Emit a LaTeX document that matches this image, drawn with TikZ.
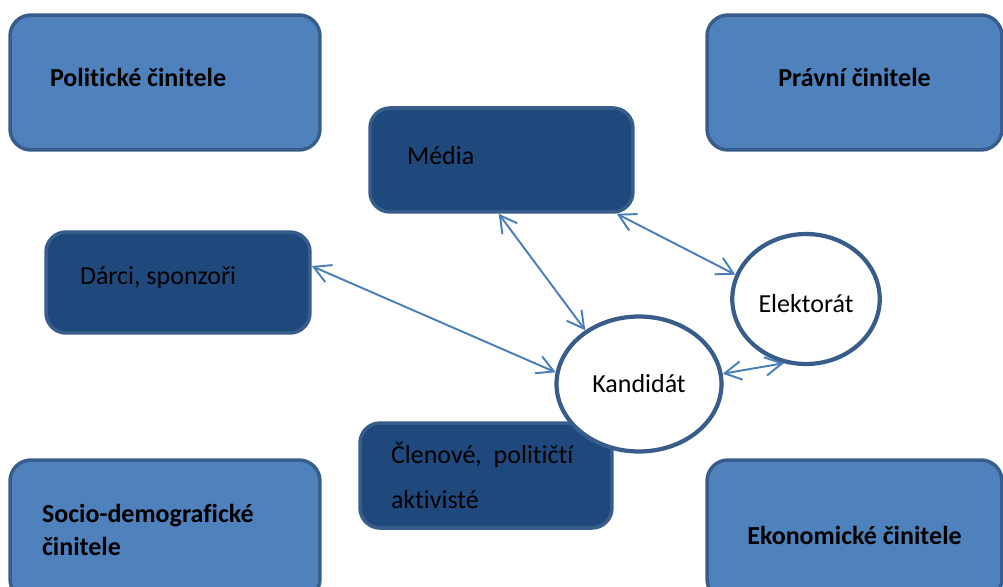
\documentclass[tikz,border=0pt]{standalone}
\usepackage{fontspec}
\setmainfont{Carlito}[Ligatures=NoCommon]
\usetikzlibrary{arrows.meta,shapes.geometric}
\definecolor{factorfill}{HTML}{4F81BD}
\definecolor{actorfill}{HTML}{1F497D}
\definecolor{edgeblue}{HTML}{385D8A}
\definecolor{linkblue}{HTML}{4A7EBB}

\begin{document}
\begin{tikzpicture}[
    x=0.02cm, y=-0.02cm,
    factor/.style={
      draw=edgeblue, fill=factorfill, line width=2pt, rounded corners=0.42cm,
      minimum width=5.9cm, minimum height=2.7cm, inner ysep=0pt,
      font=\fontsize{14.8}{18.7}\selectfont\bfseries, text=black
    },
    actor/.style={
      draw=edgeblue, fill=actorfill, line width=2pt, rounded corners=0.4cm,
      inner ysep=0pt, align=flush left,
      font=\fontsize{14.8}{18}\selectfont, text=black
    },
    voter/.style={
      ellipse, draw=edgeblue, fill=white, line width=2.4pt, inner sep=0pt,
      font=\fontsize{14.8}{18}\selectfont
    },
    link/.style={{Straight Barb[length=9.5pt,width=10.5pt]}-{Straight Barb[length=9.5pt,width=10.5pt]},
      draw=linkblue, line width=1.1pt},
  ]
  \useasboundingbox (0,0) rectangle (1003,587);
  \clip (0,0) rectangle (1003,587);

  % =================== Outer factors ===================
  \node[factor, minimum width=6.2cm, text width=4.6cm, inner xsep=0.8cm, align=flush left,
    text depth=0.2cm] (pol) at (165,82.5) {Politické činitele};
  \node[factor, text depth=0.2cm] (prav) at (854.5,82.5) {Právní činitele};
  \node[factor, minimum width=6.2cm, minimum height=2.8cm, text width=4.92cm,
    inner xsep=0.64cm, align=flush left] (socio) at (165,530) {Socio-demografické\\činitele};
  \node[factor, minimum height=2.8cm, text height=0.6cm] (ekon) at (854.5,530) {Ekonomické činitele};

  % =================== Actors ===================
  \node[actor, minimum width=5.26cm, minimum height=2.08cm, text width=3.78cm,
    inner xsep=0.74cm, text depth=0.2cm] (media) at (501.5,160) {Média};
  \node[actor, minimum width=5.28cm, minimum height=2.02cm, text width=3.92cm,
    inner xsep=0.68cm, text depth=0.28cm] (darci) at (178,282.5) {Dárci, sponzoři};
  \node[actor, minimum width=5.04cm, minimum height=2.1cm, text width=3.8cm,
    inner xsep=0.62cm, font=\fontsize{14.8}{25.5}\selectfont]
    (clen) at (486,475.5) {Členové,\ \ političtí\\aktivisté};

  % =================== Candidate and voters ===================
  \node[voter, minimum width=3.3cm, minimum height=2.7cm] (kand) at (639,384) {Kandidát};
  \node[voter, minimum width=2.95cm, minimum height=2.6cm, text height=0.55cm]
    (ele) at (806,299) {Elektorát};

  % =================== Links ===================
  \draw[link] (darci.7) -- (kand.172);
  \draw[link] (media.-93) -- (kand.135);
  \draw[link] (media.-25) -- (ele.161);
  \draw[link] (kand.7) -- (ele.-109);

\end{tikzpicture}
\end{document}
